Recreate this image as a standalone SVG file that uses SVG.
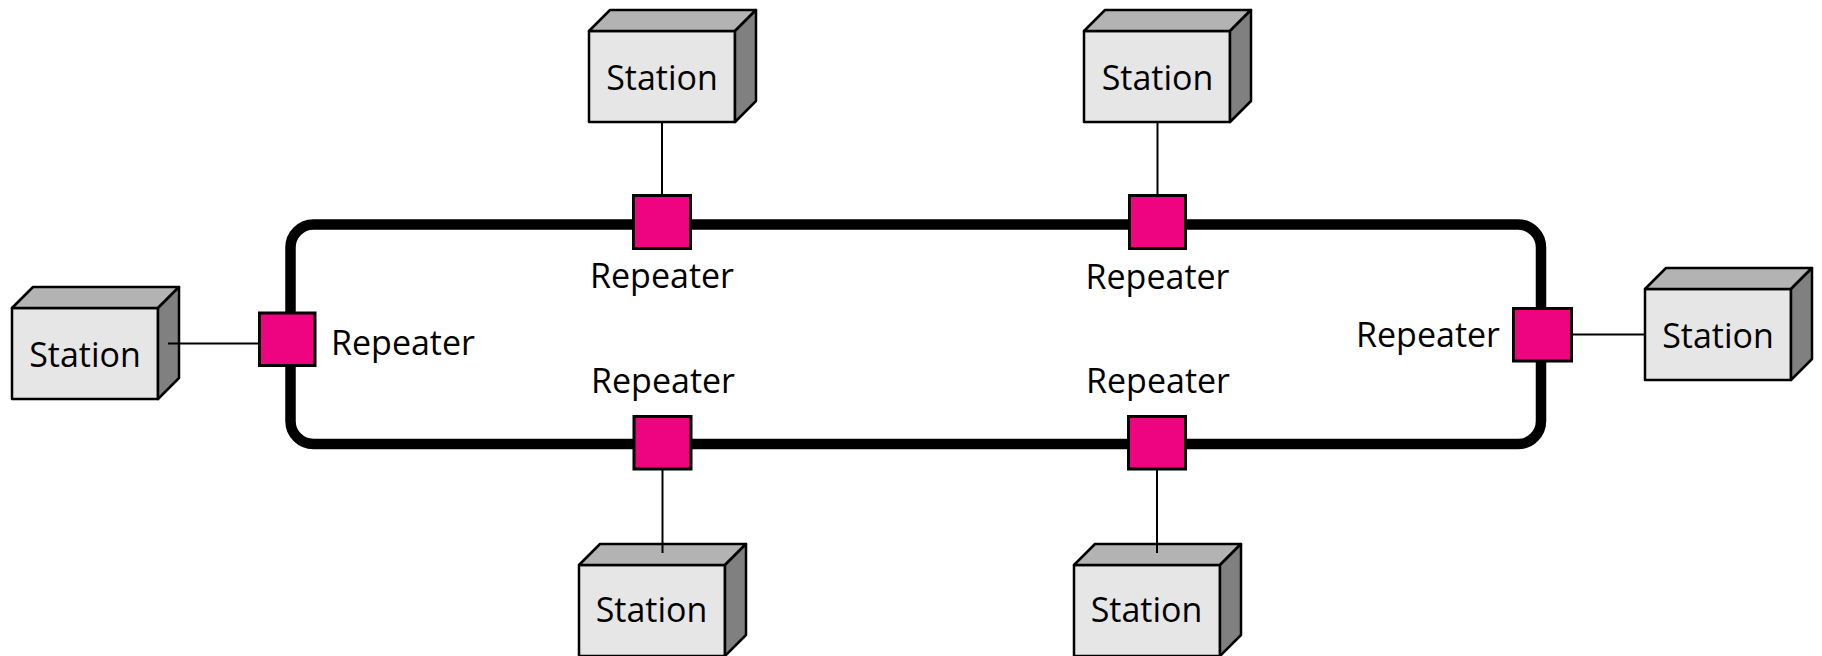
<svg xmlns="http://www.w3.org/2000/svg" width="1822" height="656" viewBox="0 0 1822 656">
<style>
.front{fill:#e6e6e6;stroke:#000;stroke-width:2.5;stroke-linejoin:round}
.top{fill:#b3b3b3;stroke:#000;stroke-width:2.5;stroke-linejoin:round}
.side{fill:#808080;stroke:#000;stroke-width:2.5;stroke-linejoin:round}
.rep{fill:#ee0480;stroke:#000;stroke-width:3}
.link{stroke:#000;stroke-width:2;fill:none}
.ring{stroke:#000;stroke-width:10.5;fill:none}
text{font-family:"Open Sans","Liberation Sans",sans-serif;font-size:34px;fill:#000}
.c{text-anchor:middle}
</style>
<rect width="1822" height="656" fill="#fff"/>
<g id="station-top1">
<rect class="front" x="589" y="31" width="146" height="91"/>
<polygon class="top" points="589,31 610,10 756,10 735,31"/>
<polygon class="side" points="735,31 756,10 756,101 735,122"/>
<text class="c" x="662" y="90">Station</text>
</g>
<g id="station-top2">
<rect class="front" x="1084" y="31" width="146" height="91"/>
<polygon class="top" points="1084,31 1105,10 1251,10 1230,31"/>
<polygon class="side" points="1230,31 1251,10 1251,101 1230,122"/>
<text class="c" x="1157.5" y="90">Station</text>
</g>
<g id="station-left">
<rect class="front" x="12" y="308" width="146" height="91"/>
<polygon class="top" points="12,308 33,287 179,287 158,308"/>
<polygon class="side" points="158,308 179,287 179,378 158,399"/>
<text class="c" x="85" y="367">Station</text>
</g>
<g id="station-right">
<rect class="front" x="1645" y="289" width="146" height="91"/>
<polygon class="top" points="1645,289 1666,268 1812,268 1791,289"/>
<polygon class="side" points="1791,289 1812,268 1812,359 1791,380"/>
<text class="c" x="1718" y="347.5">Station</text>
</g>
<g id="station-bottom1">
<rect class="front" x="579" y="565" width="146" height="91"/>
<polygon class="top" points="579,565 600,544 746,544 725,565"/>
<polygon class="side" points="725,565 746,544 746,635 725,656"/>
<text class="c" x="651.5" y="622">Station</text>
</g>
<g id="station-bottom2">
<rect class="front" x="1074" y="565" width="146" height="91"/>
<polygon class="top" points="1074,565 1095,544 1241,544 1220,565"/>
<polygon class="side" points="1220,565 1241,544 1241,635 1220,656"/>
<text class="c" x="1146.5" y="622">Station</text>
</g>
<g id="connectors">
<rect class="ring" x="290.5" y="224.5" width="1250.5" height="219.5" rx="23" ry="23"/>
<line class="link" x1="662" y1="122" x2="662" y2="196"/>
<line class="link" x1="1157.5" y1="122" x2="1157.5" y2="196"/>
<line class="link" x1="168" y1="343.5" x2="259" y2="343.5"/>
<line class="link" x1="1572" y1="334.5" x2="1645" y2="334.5"/>
<line class="link" x1="662.5" y1="469" x2="662.5" y2="553"/>
<line class="link" x1="1157" y1="469" x2="1157" y2="553"/>
</g>
<g id="repeater-top1">
<rect class="rep" x="633.5" y="195.5" width="57" height="53"/>
<text class="c" x="662" y="288">Repeater</text>
</g>
<g id="repeater-top2">
<rect class="rep" x="1129.5" y="195.5" width="56" height="53"/>
<text class="c" x="1157.5" y="289">Repeater</text>
</g>
<g id="repeater-left">
<rect class="rep" x="259.5" y="313" width="55.5" height="52.5"/>
<text x="331" y="355">Repeater</text>
</g>
<g id="repeater-right">
<rect class="rep" x="1513.5" y="308.5" width="58" height="52.5"/>
<text x="1500" y="347" text-anchor="end">Repeater</text>
</g>
<g id="repeater-bottom1">
<rect class="rep" x="634" y="416.5" width="57" height="52.5"/>
<text class="c" x="663" y="393">Repeater</text>
</g>
<g id="repeater-bottom2">
<rect class="rep" x="1128.5" y="416.5" width="57" height="52.5"/>
<text class="c" x="1158" y="393">Repeater</text>
</g>
</svg>
